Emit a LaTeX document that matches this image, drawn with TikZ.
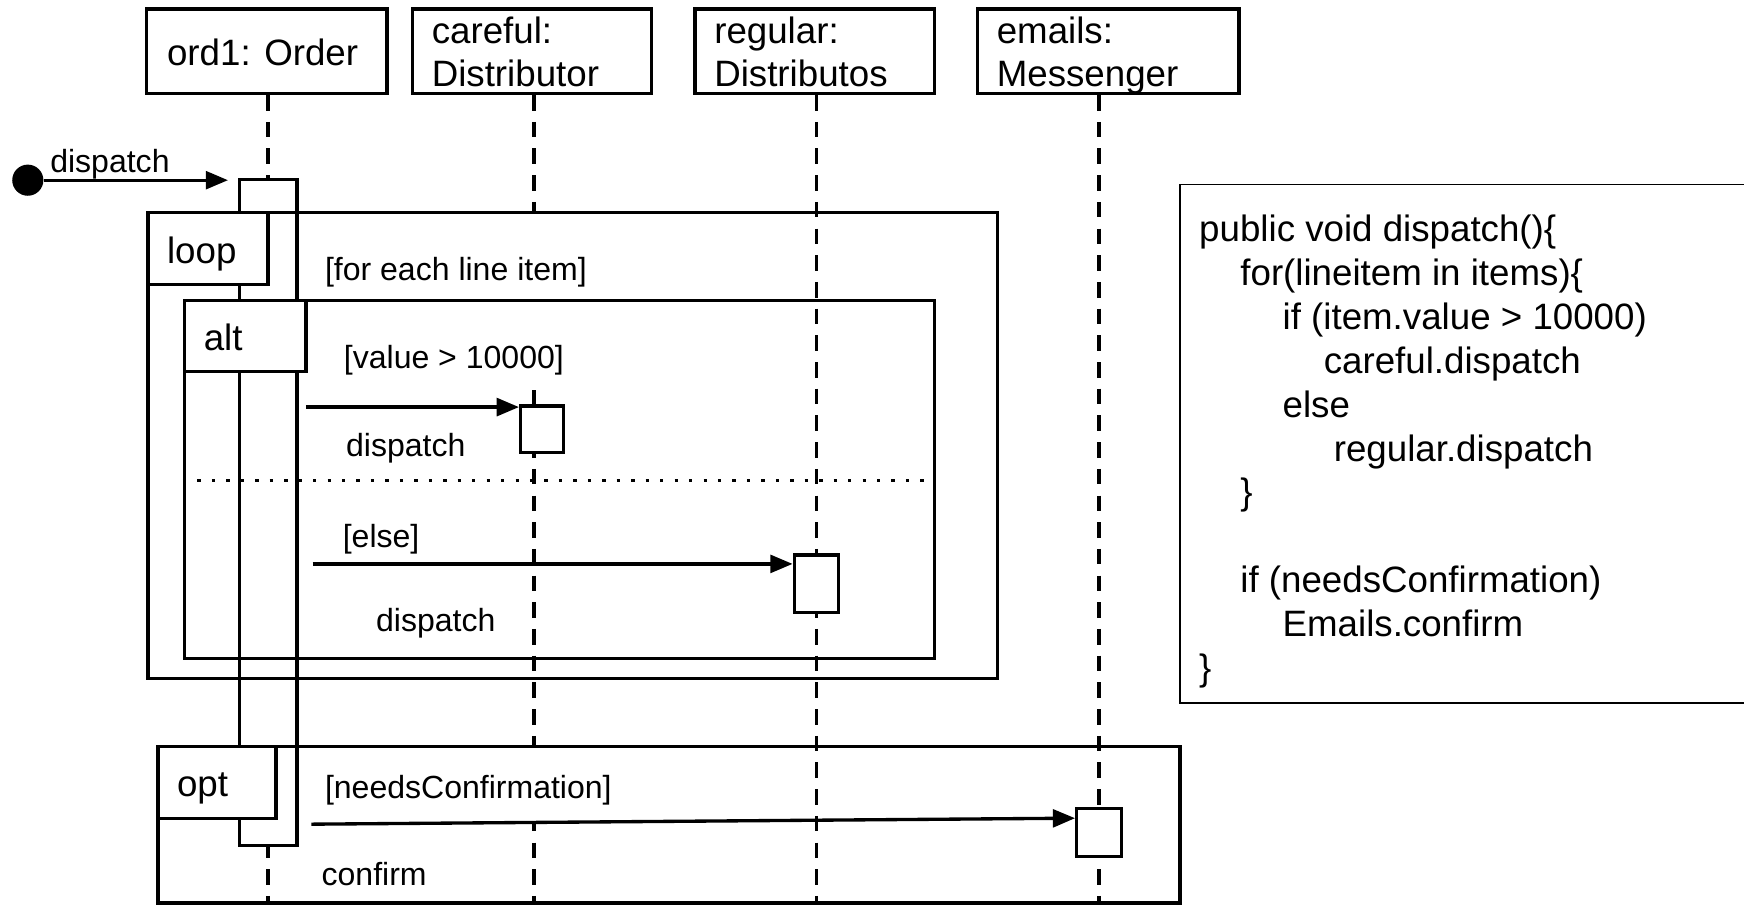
\documentclass[tikz,border=0pt]{standalone}
\usepackage{fontspec}
\setmainfont{Liberation Sans}
\usetikzlibrary{arrows.meta}
\begin{document}
\begin{tikzpicture}[x=1pt,y=-1pt,
  big/.style={font=\fontsize{33}{39}\selectfont},
  small/.style={font=\fontsize{28.8}{34}\selectfont},
  txt/.style={anchor=base west, inner sep=0pt},
  guard/.style={small, anchor=base west, fill=white, inner xsep=5pt, inner ysep=0pt},
  hbox/.style={draw, line width=3pt, inner sep=0pt},
  lifeline/.style={line width=3.3pt, dash pattern=on 14pt off 10pt},
  act/.style={draw, fill=white, line width=2.8pt, inner sep=0pt},
  frm/.style={draw, line width=3pt, inner sep=0pt},
  lbl/.style={draw, fill=white, line width=3pt, inner sep=0pt},
  divider/.style={line width=3pt, dash pattern=on 3pt off 10pt},
  msg/.style={line width=3pt, -{Triangle[length=20pt,width=16pt]}},
  codebox/.style={draw, line width=1.4pt, inner sep=0pt},
]
\useasboundingbox (0,0) rectangle (1568,814);
\clip (0,0) rectangle (1568,814);

% header boxes
\node[hbox, minimum width=216pt, minimum height=76pt] (ord) at (240,46) {};
\node[hbox, minimum width=215pt, minimum height=76pt] (car) at (478.5,46) {};
\node[hbox, minimum width=215pt, minimum height=76pt] (reg) at (732.5,46) {};
\node[hbox, minimum width=235pt, minimum height=76pt] (ema) at (996.5,46) {};
\node[big,txt] (tord) at (150,59) {ord1: Order};
\node[big,txt] (tcar1) at (388,39) {careful:};
\node[big,txt] (tcar2) at (388,78) {Distributor};
\node[big,txt] (treg1) at (642,39) {regular:};
\node[big,txt] (treg2) at (642,78) {Distributos};
\node[big,txt] (tema1) at (896,39) {emails:};
\node[big,txt] (tema2) at (896,78) {Messenger};

% lifelines
\coordinate (ordend) at (241,814);
\coordinate (carend) at (480,814);
\coordinate (regend) at (734,814);
\coordinate (emaend) at (988,814);
\draw[lifeline] (ord.south -| ordend) -- (ordend);
\draw[lifeline] (car.south -| carend) -- (carend);
\draw[lifeline] (reg.south -| regend) -- (regend);
\draw[lifeline] (ema.south -| emaend) -- (emaend);

% guards (white text boxes hide the lifelines)
\node[guard, text height=60pt, text depth=18pt] (g1) at (287,252) {[for each line item]};
\node[guard, text height=60pt, text depth=20pt] (g2) at (304,331) {[value > 10000]};
\node[small,txt] (g3) at (308,492) {[else]};
\node[guard, text height=47pt, text depth=21pt] (g4) at (287,718) {[needsConfirmation]};

% activations
\node[act, minimum width=52pt, minimum height=599pt] (oact) at (241,460.5) {};
\node[act, minimum width=39pt, minimum height=42pt] (cact) at (487.5,386) {};
\node[act, minimum width=40pt, minimum height=52pt] (ract) at (734,525) {};
\node[act, minimum width=40pt, minimum height=43pt] (eact) at (988,748.5) {};

% frames
\node[frm, minimum width=764pt, minimum height=419pt] (loop) at (515,400.5) {};
\node[frm, minimum width=674pt, minimum height=322pt] (alt) at (503,431) {};
\node[frm, minimum width=919pt, minimum height=141pt] (opt) at (601.5,741.5) {};
\draw[divider] (alt.west |- 0,432) -- (alt.east |- 0,432);

% frame labels
\node[lbl, minimum width=108pt, minimum height=65pt] (looplbl) at (187,223.5) {};
\node[lbl, minimum width=109pt, minimum height=64pt] (altlbl) at (220.5,302) {};
\node[lbl, minimum width=106pt, minimum height=65pt] (optlbl) at (195,703.5) {};
\node[big,txt] (tloop) at (150,237) {loop};
\node[big,txt] (talt) at (183,315) {alt};
\node[big,txt] (topt) at (159,716) {opt};

% messages
\node[circle, fill, minimum size=28pt, inner sep=0pt] (start) at (25,162) {};
\coordinate (fend) at (205,162);
\draw[msg] (start) -- (fend);
\coordinate (m1s) at (275,366);
\draw[msg] (m1s) -- (cact.west |- m1s);
\coordinate (m2s) at (281,507);
\draw[msg] (m2s) -- (ract.west |- m2s);
\coordinate (m3s) at (280,741);
\draw[msg] (m3s) -- ([yshift=-10pt]eact.north west);

\node[small,txt] (l0) at (45,155) {dispatch};
\node[small,txt] (l1) at (311,410) {dispatch};
\node[small,txt] (l2) at (338,568) {dispatch};
\node[small,txt] (l3) at (289,796) {confirm};

% code box
\node[codebox, minimum width=514pt, minimum height=466pt] (code) at (1318,399) {};
\node[big,txt] (c1) at (1078,217) {public void dispatch()\{};
\node[big,txt] (c2) at (1115,256.5) {for(lineitem in items)\{};
\node[big,txt] (c3) at (1153,296) {if (item.value > 10000)};
\node[big,txt] (c4) at (1190,335.5) {careful.dispatch};
\node[big,txt] (c5) at (1153,375) {else};
\node[big,txt] (c6) at (1199,414.5) {regular.dispatch};
\node[big,txt] (c7) at (1115,454) {\}};
\node[big,txt] (c8) at (1115,533) {if (needsConfirmation)};
\node[big,txt] (c9) at (1153,572.5) {Emails.confirm};
\node[big,txt] (c10) at (1078,612) {\}};
\end{tikzpicture}
\end{document}
